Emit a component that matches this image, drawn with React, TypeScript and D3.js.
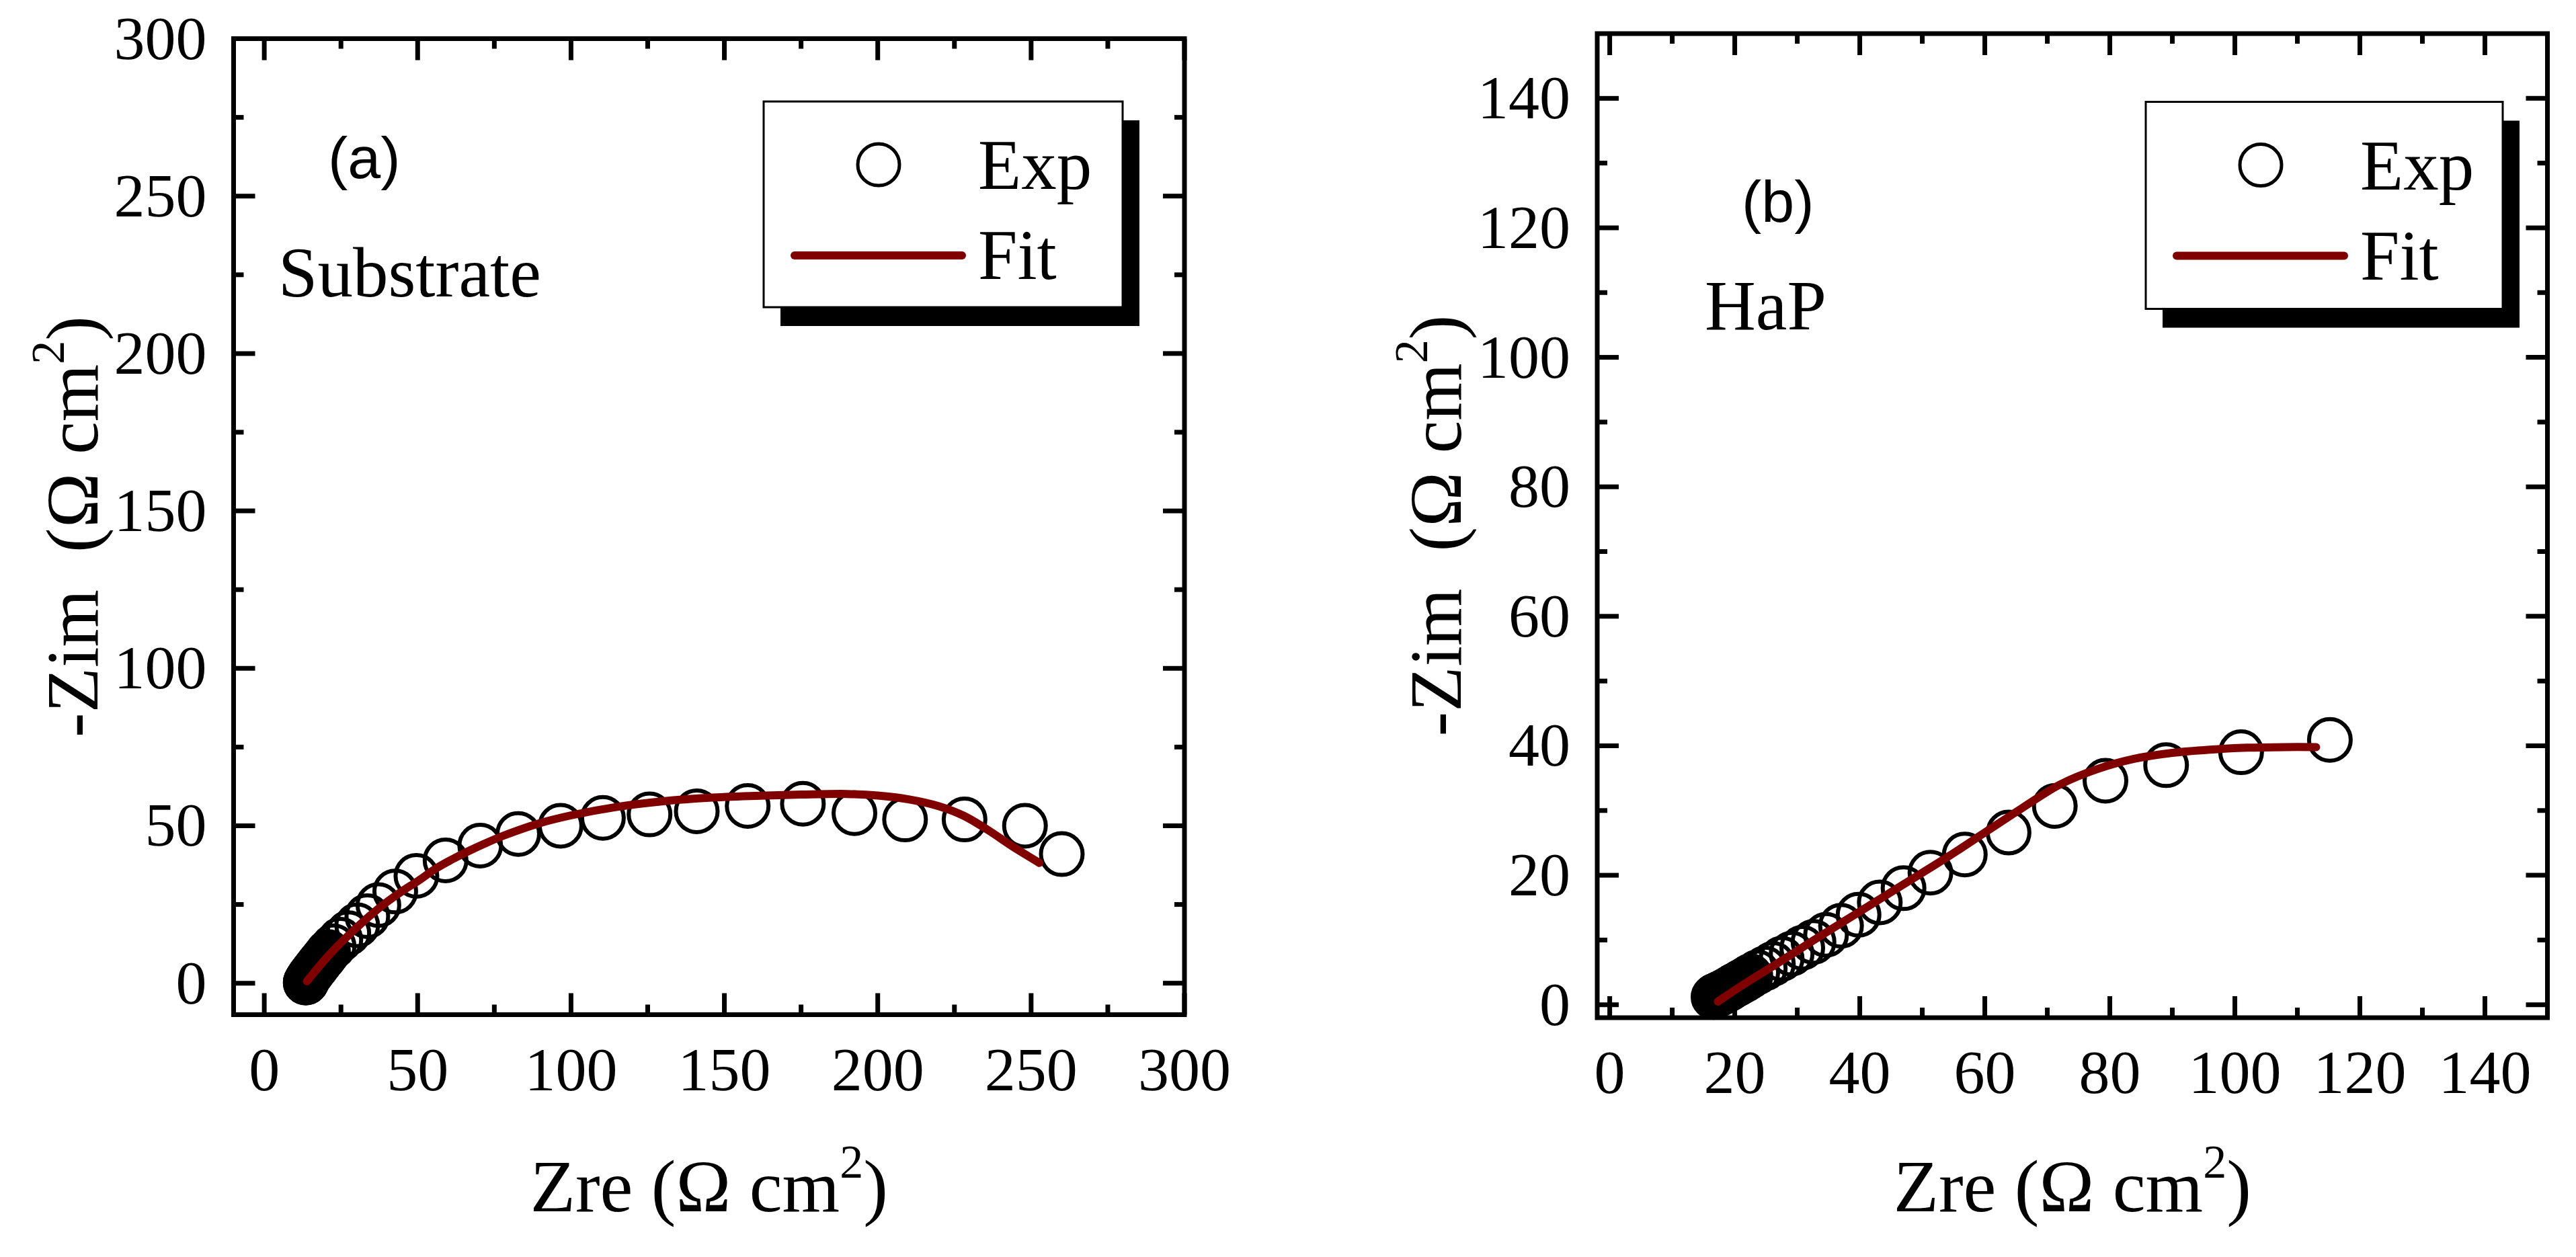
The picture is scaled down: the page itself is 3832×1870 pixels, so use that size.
import { useEffect } from "react";
import * as d3 from "d3";

const WIDTH = 3832;
const HEIGHT = 1870;
const SERIF = "'Times New Roman', 'Liberation Serif', serif";
const SANS = "Arial, 'Liberation Sans', sans-serif";
const FIT_COLOR = "#800000";

// (a) Substrate
const subExpZre = [
  13.5, 13.55, 13.6, 13.65, 13.7, 13.8, 13.9, 14.0, 14.2, 14.4, 14.7, 15.0, 15.3,
  15.7, 16.2, 16.8, 17.3, 17.9, 18.6, 19.4, 20.1, 20.8, 22.6, 24.8, 27.4, 30.3,
  33.6, 37.2, 42.7, 49.6, 59.1, 70.4, 82.8, 96.6, 110.4, 125.6, 141.0, 157.6,
  175.6, 192.4, 208.9, 228.3, 248.0, 260.0,
];
const subExpZim = [
  0.2, 0.25, 0.3, 0.4, 0.5, 0.7, 0.9, 1.1, 1.4, 1.8, 2.2, 2.6, 3.0, 3.5, 4.2, 4.9,
  5.6, 6.3, 7.2, 8.1, 9.0, 9.9, 11.7, 13.8, 15.9, 18.4, 21.3, 24.8, 29.1, 34.1,
  39.0, 43.7, 47.4, 50.0, 52.5, 53.6, 54.6, 56.3, 57.0, 54.0, 52.0, 52.0, 50.0,
  41.0,
];
const subFitZre = [
  13.9, 16, 19, 23.4, 28, 34.3, 40, 45.2, 50, 56.1, 61, 67.1, 72, 78.1, 89, 100,
  115, 130, 145, 160, 175, 190, 200, 210, 220, 228, 236, 244, 252.7,
];
const subFitZim = [
  0.6, 3.1, 6.6, 11.3, 15.7, 21.3, 25.8, 29.4, 32.4, 36.5, 39.2, 42.2, 44.4,
  46.9, 50.6, 53.3, 56.0, 57.8, 58.9, 59.5, 59.9, 60.1, 59.6, 58.4, 56.2, 53.2,
  48.6, 43.4, 38.2,
];
const subTicks = [0, 50, 100, 150, 200, 250, 300];

// (b) HaP
const hapExpZre = [
  16.6, 16.7, 16.8, 16.9, 17.0, 17.2, 17.4, 17.6, 17.9, 18.2, 18.6, 19.0, 19.4,
  19.8, 20.2, 20.6, 21.0, 21.5, 22.0, 22.5, 23.6, 24.8, 26.1, 27.5, 29.1, 30.8,
  32.6, 34.6, 37.0, 39.8, 43.2, 47.0, 51.3, 56.8, 63.8, 71.2, 79.3, 89.0, 101.0,
  115.2,
];
const hapExpZim = [
  1.2, 1.25, 1.3, 1.4, 1.45, 1.5, 1.6, 1.7, 1.85, 2.0, 2.2, 2.4, 2.65, 2.9, 3.1,
  3.3, 3.55, 3.8, 4.1, 4.4, 5.0, 5.6, 6.3, 7.1, 7.9, 8.8, 9.7, 10.8, 12.2, 13.9,
  15.8, 18.0, 20.4, 23.2, 26.6, 30.7, 34.6, 37.0, 39.0, 40.9,
];
const hapFitZre = [
  17.3, 22, 27, 33, 40, 47, 54, 60, 66, 72, 78, 84, 90, 96, 102, 108, 113,
];
const hapFitZim = [
  0.5, 3.5, 6.5, 10.2, 14.4, 18.6, 22.8, 26.6, 30.4, 34.0, 36.4, 38.0, 38.9,
  39.4, 39.7, 39.8, 39.8,
];
const hapTicks = [0, 20, 40, 60, 80, 100, 120, 140];

type PanelProps = {
  left: number;
  right: number;
  top: number;
  bottom: number;
  xDomain: [number, number];
  yDomain: [number, number];
  ticks: number[];
  expZre: number[];
  expZim: number[];
  fitZre: number[];
  fitZim: number[];
  letter: string;
  letterPos: [number, number];
  name: string;
  namePos: [number, number];
  legend: [number, number, number, number];
};

const MAJOR = 32;
const MINOR = 15;
const AXIS_W = 7;
const TITLE_SIZE = 110;

const Panel = (p: PanelProps) => {
  const x = d3.scaleLinear().domain(p.xDomain).range([p.left, p.right]);
  const y = d3.scaleLinear().domain(p.yDomain).range([p.bottom, p.top]);
  const step = p.ticks[1] - p.ticks[0];
  const minor = p.ticks.map((t) => t + step / 2).filter((t) => t < p.xDomain[1]);

  const fitPts: [number, number][] = p.fitZre.map((v, i) => [v, p.fitZim[i]]);
  const fitPath =
    d3
      .line<[number, number]>()
      .x((d) => x(d[0]))
      .y((d) => y(d[1]))
      .curve(d3.curveCatmullRom)(fitPts) ?? "";

  const cx = (p.left + p.right) / 2;
  const cy = (p.top + p.bottom) / 2;
  const [lx, ly, lw, lh] = p.legend;

  const tickLines: JSX.Element[] = [];
  const addTicks = (vals: number[], len: number, key: string) => {
    vals.forEach((t) => {
      const xp = x(t);
      const yp = y(t);
      tickLines.push(
        <line key={`${key}b${t}`} x1={xp} x2={xp} y1={p.bottom} y2={p.bottom - len} />,
        <line key={`${key}t${t}`} x1={xp} x2={xp} y1={p.top} y2={p.top + len} />,
        <line key={`${key}l${t}`} x1={p.left} x2={p.left + len} y1={yp} y2={yp} />,
        <line key={`${key}r${t}`} x1={p.right} x2={p.right - len} y1={yp} y2={yp} />
      );
    });
  };
  addTicks(p.ticks, MAJOR, "M");
  addTicks(minor, MINOR, "m");

  return (
    <g>
      {/* data */}
      <g fill="none" stroke="#000" strokeWidth={6}>
        {p.expZre.map((v, i) => (
          <circle key={i} cx={x(v)} cy={y(p.expZim[i])} r={31} />
        ))}
      </g>
      <path
        d={fitPath}
        fill="none"
        stroke={FIT_COLOR}
        strokeWidth={12}
        strokeLinecap="round"
        strokeLinejoin="round"
      />

      {/* frame and ticks */}
      <rect
        x={p.left}
        y={p.top}
        width={p.right - p.left}
        height={p.bottom - p.top}
        fill="none"
        stroke="#000"
        strokeWidth={AXIS_W}
      />
      <g stroke="#000" strokeWidth={AXIS_W}>
        {tickLines}
      </g>

      {/* tick labels */}
      <g fontFamily={SERIF} fontSize={92} fill="#000">
        {p.ticks.map((t) => (
          <text key={`xl${t}`} x={x(t)} y={p.bottom + 112} textAnchor="middle">
            {t}
          </text>
        ))}
        {p.ticks.map((t) => (
          <text key={`yl${t}`} x={p.left - 40} y={y(t) + 30} textAnchor="end">
            {t}
          </text>
        ))}
      </g>

      {/* axis titles */}
      <text x={cx} y={1802} textAnchor="middle" fontFamily={SERIF} fontSize={TITLE_SIZE}>
        <tspan>Zre (Ω cm</tspan>
        <tspan fontSize={70} dy={-50}>
          2
        </tspan>
        <tspan dy={50}>)</tspan>
      </text>
      <text
        transform={`translate(${p.left - 203},${cy}) rotate(-90)`}
        textAnchor="middle"
        fontFamily={SERIF}
        fontSize={TITLE_SIZE}
        style={{ whiteSpace: "pre" }}
      >
        <tspan>{"-Zim  (Ω cm"}</tspan>
        <tspan fontSize={70} dy={-50}>
          2
        </tspan>
        <tspan dy={50}>)</tspan>
      </text>

      {/* annotations */}
      <text x={p.letterPos[0]} y={p.letterPos[1]} fontFamily={SANS} fontSize={88}>
        {p.letter}
      </text>
      <text x={p.namePos[0]} y={p.namePos[1]} fontFamily={SERIF} fontSize={105}>
        {p.name}
      </text>

      {/* legend */}
      <rect x={lx + 25} y={ly + 28} width={lw} height={lh} fill="#000" />
      <rect x={lx} y={ly} width={lw} height={lh} fill="#fff" stroke="#000" strokeWidth={3} />
      <circle cx={lx + 171} cy={ly + 94} r={31} fill="none" stroke="#000" strokeWidth={5} />
      <text x={lx + 319} y={ly + 130} fontFamily={SERIF} fontSize={105}>
        Exp
      </text>
      <line
        x1={lx + 46}
        x2={lx + 295}
        y1={ly + 229}
        y2={ly + 229}
        stroke={FIT_COLOR}
        strokeWidth={12}
        strokeLinecap="round"
      />
      <text x={lx + 319} y={ly + 264} fontFamily={SERIF} fontSize={105}>
        Fit
      </text>
    </g>
  );
};

const App = () => {
  useEffect(() => {
    document.body.style.margin = "0";
  }, []);

  return (
    <svg
      width={WIDTH}
      height={HEIGHT}
      viewBox={`0 0 ${WIDTH} ${HEIGHT}`}
      style={{ display: "block", background: "#fff" }}
    >
      <Panel
        left={347.5}
        right={1762}
        top={57.5}
        bottom={1509.5}
        xDomain={[-10, 300]}
        yDomain={[-10, 300]}
        ticks={subTicks}
        expZre={subExpZre}
        expZim={subExpZim}
        fitZre={subFitZre}
        fitZim={subFitZim}
        letter="(a)"
        letterPos={[488, 265]}
        name="Substrate"
        namePos={[414, 441]}
        legend={[1136, 151, 534, 306]}
      />
      <Panel
        left={2376}
        right={3789.5}
        top={50}
        bottom={1514}
        xDomain={[-2, 150]}
        yDomain={[-2, 150]}
        ticks={hapTicks}
        expZre={hapExpZre}
        expZim={hapExpZim}
        fitZre={hapFitZre}
        fitZim={hapFitZim}
        letter="(b)"
        letterPos={[2591, 330]}
        name="HaP"
        namePos={[2536, 490]}
        legend={[3192, 151.5, 531, 308]}
      />
    </svg>
  );
};

export default App;
